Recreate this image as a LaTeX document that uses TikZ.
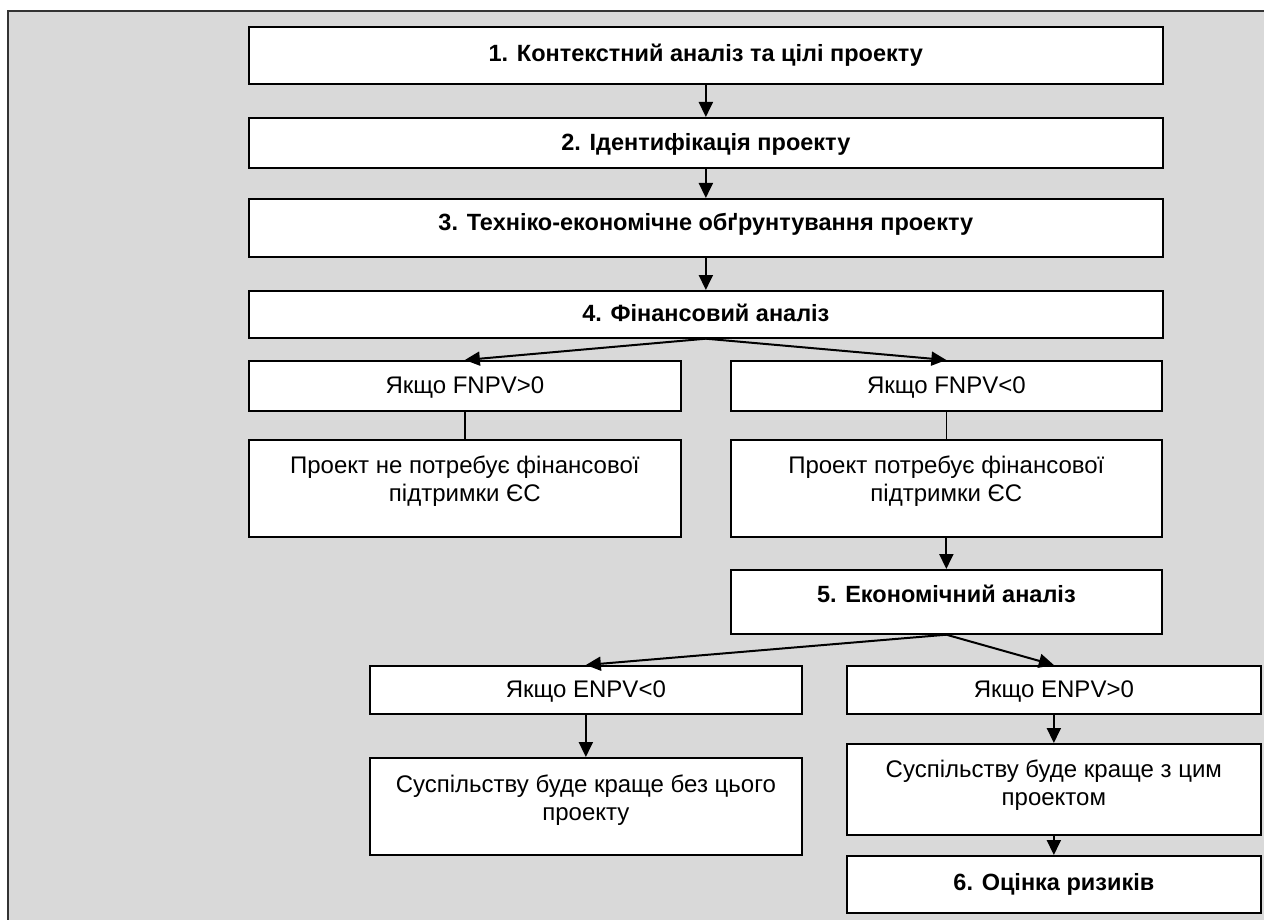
\documentclass[tikz,border=0pt]{standalone}
\usepackage{fontspec}
\setmainfont{Liberation Sans}
\usetikzlibrary{arrows.meta}
\definecolor{bggray}{RGB}{217,217,217}
\newcommand\bfnt{\fontsize{23.5}{27.5}\selectfont\bfseries}
\newcommand\rgfnt{\fontsize{24}{27.5}\selectfont}
% name, x1, y1, x2, y2, baseline offset, font, text
\newcommand\flowbox[8]{%
  \node[flowrect] (#1) at (#2,#3)
   {\parbox[c][\dimexpr#5pt-#3pt\relax][t]{\dimexpr#4pt-#2pt\relax}{\centering#7\rule{0pt}{#6pt}#8\par}};}
\tikzset{
  flowrect/.style={draw=black, line width=1.7pt, fill=white, inner sep=0pt, anchor=north west},
  arr/.style={draw=black, line width=2pt, -{Triangle[length=15pt,width=14pt]}},
  plainln/.style={draw=black, line width=1.5pt},
  frameln/.style={draw=black!80, line width=1.6pt}
}
\begin{document}
\begin{tikzpicture}[x=1pt,y=-1pt]
\useasboundingbox (0,0) rectangle (1264,920);
\fill[white] (0,0) rectangle (1264,920);
\fill[bggray] (8,11) rectangle (1264,920);
\draw[frameln] (8,920) -- (8,11) -- (1264,11);

\flowbox{b1}{248}{26}{1162}{83}{35}{\bfnt}{1. Контекстний аналіз та цілі проекту}
\flowbox{b2}{248}{117}{1162}{167}{33}{\bfnt}{2. Ідентифікація проекту}
\flowbox{b3}{248}{198}{1162}{256}{32}{\bfnt}{3. Техніко-економічне обґрунтування проекту}
\flowbox{b4}{248}{290}{1162}{337}{31}{\bfnt}{4. Фінансовий аналіз}
\flowbox{fp}{248}{360}{680}{410}{33}{\rgfnt}{Якщо FNPV>0}
\flowbox{fn}{730}{360}{1161}{410}{33}{\rgfnt}{Якщо FNPV<0}
\flowbox{np}{248}{439}{680}{536}{34}{\rgfnt}{Проект не потребує фінансової\\підтримки ЄС}
\flowbox{pp}{730}{439}{1161}{536}{34}{\rgfnt}{Проект потребує фінансової\\підтримки ЄС}
\flowbox{b5}{730}{569}{1161}{633}{33}{\bfnt}{5. Економічний аналіз}
\flowbox{en}{369}{665}{801}{713}{32}{\rgfnt}{Якщо ENPV<0}
\flowbox{ep}{846}{665}{1260}{713}{32}{\rgfnt}{Якщо ENPV>0}
\flowbox{sb}{369}{757}{801}{854}{35}{\rgfnt}{Суспільству буде краще без цього\\проекту}
\flowbox{sz}{846}{743}{1260}{834}{34}{\rgfnt}{Суспільству буде краще з цим\\проектом}
\flowbox{b6}{846}{855}{1260}{912}{35}{\bfnt}{6. Оцінка ризиків}

\draw[arr] (b1.south) -- (b2.north);
\draw[arr] (b2.south) -- (b3.north);
\draw[arr] (b3.south) -- (b4.north);
\draw[arr] (b4.south) -- (fp.north);
\draw[arr] (b4.south) -- (fn.north);
\draw[plainln] (fp.south) -- (np.north);
\draw[plainln] (fn.south) -- (pp.north);
\draw[arr] (pp.south) -- (b5.north);
\draw[arr] (b5.south) -- (en.north);
\draw[arr] (b5.south) -- (ep.north);
\draw[arr] (en.south) -- (sb.north);
\draw[arr] (ep.south) -- (sz.north);
\draw[arr] (sz.south) -- (b6.north);
\end{tikzpicture}
\end{document}
